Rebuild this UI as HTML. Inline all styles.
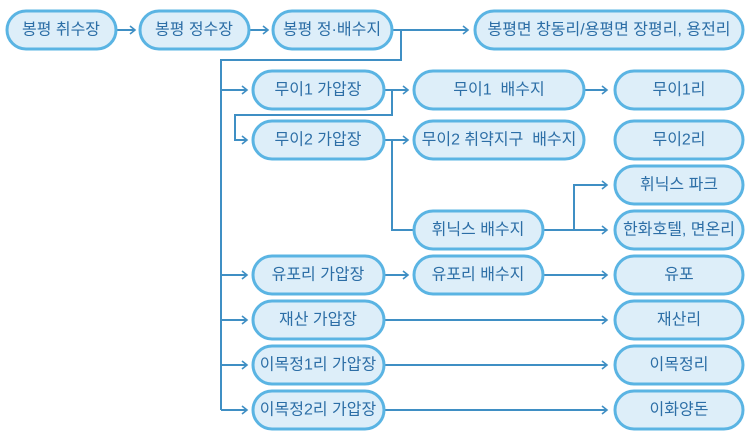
<!DOCTYPE html>
<html><head><meta charset="utf-8"><style>
body{margin:0;background:#fff;width:750px;height:440px;overflow:hidden}
svg text{font-family:"Liberation Sans","Noto Sans CJK KR",sans-serif;font-size:16px;fill:#2c6ea6;text-anchor:middle;dominant-baseline:central}
</style></head><body>
<svg width="750" height="440" viewBox="0 0 750 440">
<defs><marker id="a" markerWidth="8" markerHeight="10" refX="6" refY="5" orient="auto" markerUnits="userSpaceOnUse"><path d="M1,1 L6,5 L1,9" fill="none" stroke="#3f8fc4" stroke-width="1.6"/></marker></defs>
<g fill="none" stroke="#3f8fc4" stroke-width="2">
<path d="M116,30 H135" marker-end="url(#a)"/>
<path d="M249,30 H268" marker-end="url(#a)"/>
<path d="M392,30 H468" marker-end="url(#a)"/>
<path d="M401,30 V60 H221 V410"/>
<path d="M221,90 H247" marker-end="url(#a)"/>
<path d="M221,275 H247" marker-end="url(#a)"/>
<path d="M221,320 H247" marker-end="url(#a)"/>
<path d="M221,365 H247" marker-end="url(#a)"/>
<path d="M221,410 H247" marker-end="url(#a)"/>
<path d="M384,90 H408" marker-end="url(#a)"/>
<path d="M392,90 V115 H235 V140 H247" marker-end="url(#a)"/>
<path d="M384,140 H408" marker-end="url(#a)"/>
<path d="M392,140 V230 H414"/>
<path d="M584,90 H607" marker-end="url(#a)"/>
<path d="M543,230 H607" marker-end="url(#a)"/>
<path d="M574,230 V185 H607" marker-end="url(#a)"/>
<path d="M384,275 H408" marker-end="url(#a)"/>
<path d="M543,275 H607" marker-end="url(#a)"/>
<path d="M384,320 H607" marker-end="url(#a)"/>
<path d="M384,365 H607" marker-end="url(#a)"/>
<path d="M384,410 H607" marker-end="url(#a)"/>
</g>
<g fill="#ddeef9" stroke="#5ab4e3" stroke-width="3">
<rect x="7" y="11" width="109" height="38" rx="19"/>
<rect x="140" y="11" width="109" height="38" rx="19"/>
<rect x="273" y="11" width="119" height="38" rx="19"/>
<rect x="475" y="11" width="268" height="38" rx="19"/>
<rect x="253" y="71" width="131" height="38" rx="19"/>
<rect x="253" y="121" width="131" height="38" rx="19"/>
<rect x="253" y="256" width="131" height="38" rx="19"/>
<rect x="253" y="301" width="131" height="38" rx="19"/>
<rect x="253" y="346" width="131" height="38" rx="19"/>
<rect x="253" y="391" width="131" height="38" rx="19"/>
<rect x="414" y="71" width="170" height="38" rx="19"/>
<rect x="414" y="121" width="170" height="38" rx="19"/>
<rect x="414" y="211" width="129" height="38" rx="19"/>
<rect x="414" y="256" width="129" height="38" rx="19"/>
<rect x="615" y="71" width="128" height="38" rx="19"/>
<rect x="615" y="121" width="128" height="38" rx="19"/>
<rect x="615" y="166" width="128" height="38" rx="19"/>
<rect x="615" y="211" width="128" height="38" rx="19"/>
<rect x="615" y="256" width="128" height="38" rx="19"/>
<rect x="615" y="301" width="128" height="38" rx="19"/>
<rect x="615" y="346" width="128" height="38" rx="19"/>
<rect x="615" y="391" width="128" height="38" rx="19"/>
</g>
<text x="61" y="30">봉평 취수장</text>
<text x="194" y="30">봉평 정수장</text>
<text x="332" y="30">봉평 정·배수지</text>
<text x="609" y="30">봉평면 창동리/용평면 장평리, 용전리</text>
<text x="318" y="90">무이1 가압장</text>
<text x="318" y="140">무이2 가압장</text>
<text x="318" y="275">유포리 가압장</text>
<text x="318" y="320">재산 가압장</text>
<text x="318" y="365">이목정1리 가압장</text>
<text x="318" y="410">이목정2리 가압장</text>
<text x="499" y="90" xml:space="preserve">무이1  배수지</text>
<text x="499" y="140" xml:space="preserve">무이2 취약지구  배수지</text>
<text x="478" y="230">휘닉스 배수지</text>
<text x="478" y="275">유포리 배수지</text>
<text x="679" y="90">무이1리</text>
<text x="679" y="140">무이2리</text>
<text x="679" y="185">휘닉스 파크</text>
<text x="679" y="230">한화호텔, 면온리</text>
<text x="679" y="275">유포</text>
<text x="679" y="320">재산리</text>
<text x="679" y="365">이목정리</text>
<text x="679" y="410">이화양돈</text>
</svg>
</body></html>
